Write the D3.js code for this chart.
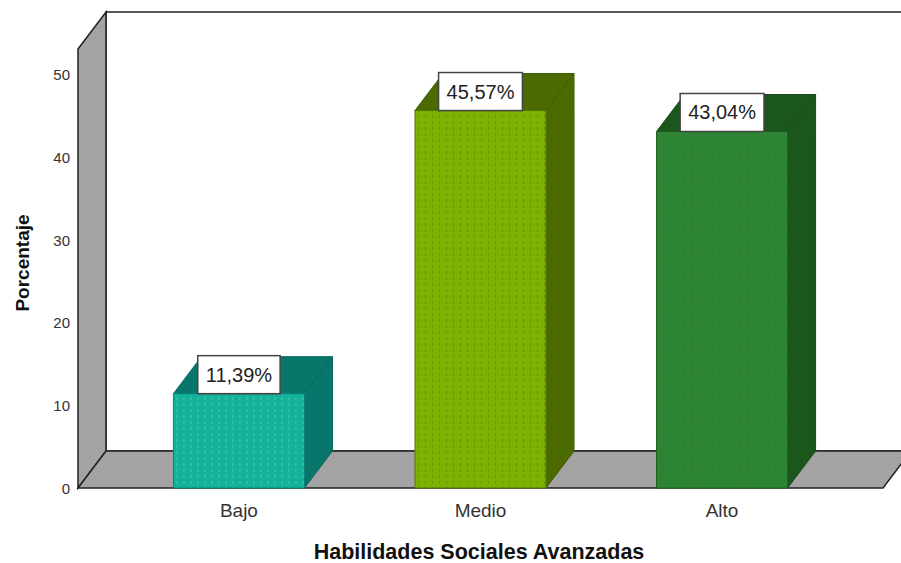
<!DOCTYPE html>
<meta charset="utf-8">
<style>
  body { margin: 0; background: #fff; }
  text { font-family: "Liberation Sans", Arial, sans-serif; }
</style>
<svg width="901" height="563"></svg>
<script src="https://cdn.jsdelivr.net/npm/d3@7"></script>
<script>

var categories = ["Bajo", "Medio", "Alto"];
var values = [11.39, 45.57, 43.04];
var labels = ["11,39%", "45,57%", "43,04%"];
var ticks = [0, 10, 20, 30, 40, 50];

var frontColors = ["#14b29b", "#7db300", "#2a8532"];
var darkColors = ["#08766a", "#4b6a00", "#1b561c"];
var dotColors = ["#45cfa8", "#5e9a00", "#4d7a4a"];

var svg = d3.select("svg"),
    dx = 28, dy = -37,
    left = 78, right = 883, base = 488;

var x = d3.scaleBand()
    .domain(categories)
    .range([left, right])
    .paddingInner(0.4576)
    .paddingOuter(0.395);

var y = d3.scaleLinear()
    .domain([0, 53])
    .range([base, 49]);

var wallTop = y.range()[1];

// patterns
var defs = svg.append("defs");
categories.forEach(function(c, i) {
  var p = defs.append("pattern")
      .attr("id", "pat" + i)
      .attr("patternUnits", "userSpaceOnUse")
      .attr("width", 7).attr("height", 6)
      .attr("x", x(c)).attr("y", 0);
  p.append("rect").attr("width", 7).attr("height", 6).attr("fill", frontColors[i]);
  p.append("rect").attr("x", 3).attr("y", 1).attr("width", 1).attr("height", 3)
      .attr("fill", dotColors[i]);
});

// back wall
svg.append("rect")
    .attr("x", left + dx).attr("y", wallTop + dy)
    .attr("width", right - left + 10).attr("height", base - wallTop)
    .attr("fill", "#fff").attr("stroke", "#222").attr("stroke-width", 1.5);

// left wall
svg.append("polygon")
    .attr("points", [[left, wallTop], [left + dx, wallTop + dy], [left + dx, base + dy], [left, base]].join(" "))
    .attr("fill", "#a3a3a3").attr("stroke", "#222").attr("stroke-width", 1.5);

// floor
svg.append("polygon")
    .attr("points", [[left, base], [left + dx, base + dy], [right + dx, base + dy], [right, base]].join(" "))
    .attr("fill", "#a3a3a3").attr("stroke", "#222").attr("stroke-width", 1.5);

// bars
var bw = x.bandwidth();
var bars = svg.selectAll(".bar")
  .data(categories)
  .enter().append("g").attr("class", "bar");

bars.append("polygon")
    .attr("points", function(c, i) {
      var x0 = x(c) + bw, y0 = y(values[i]);
      return [[x0, y0], [x0 + dx, y0 + dy], [x0 + dx, base + dy], [x0, base]].join(" ");
    })
    .attr("fill", function(c, i) { return darkColors[i]; })
    .attr("stroke", function(c, i) { return d3.color(darkColors[i]).darker(0.4); })
    .attr("stroke-width", 1);

bars.append("polygon")
    .attr("points", function(c, i) {
      var x0 = x(c), y0 = y(values[i]);
      return [[x0, y0], [x0 + dx, y0 + dy], [x0 + bw + dx, y0 + dy], [x0 + bw, y0]].join(" ");
    })
    .attr("fill", function(c, i) { return darkColors[i]; })
    .attr("stroke", function(c, i) { return d3.color(darkColors[i]).darker(0.4); })
    .attr("stroke-width", 1);

bars.append("rect")
    .attr("x", function(c) { return x(c); })
    .attr("y", function(c, i) { return y(values[i]); })
    .attr("width", bw)
    .attr("height", function(c, i) { return base - y(values[i]); })
    .attr("fill", function(c, i) { return "url(#pat" + i + ")"; })
    .attr("stroke", function(c, i) { return d3.color(darkColors[i]).brighter(0.3); })
    .attr("stroke-width", 1);

// value labels
bars.each(function(c, i) {
  var g = d3.select(this);
  var cx = x(c) + bw / 2, yb = y(values[i]);
  var t = g.append("text")
      .attr("x", cx).attr("y", yb - 12)
      .attr("text-anchor", "middle")
      .attr("font-size", 20)
      .attr("fill", "#222")
      .text(labels[i]);
  var w = t.node().getComputedTextLength() + 16;
  g.insert("rect", "text")
      .attr("x", cx - w / 2).attr("y", yb - 38)
      .attr("width", w).attr("height", 38)
      .attr("fill", "#fff").attr("stroke", "#444").attr("stroke-width", 1.5);
});

// y tick labels
svg.selectAll(".tick")
  .data(ticks)
  .enter().append("text")
    .attr("x", 70)
    .attr("y", function(d) { return y(d) + 6; })
    .attr("text-anchor", "end")
    .attr("font-size", 15)
    .attr("fill", "#333")
    .text(function(d) { return d; });

// category labels
svg.selectAll(".cat")
  .data(categories)
  .enter().append("text")
    .attr("x", function(c) { return x(c) + bw / 2; })
    .attr("y", 517)
    .attr("text-anchor", "middle")
    .attr("font-size", 19)
    .attr("fill", "#333")
    .text(function(c) { return c; });

// axis titles
svg.append("text")
    .attr("x", 479).attr("y", 559)
    .attr("text-anchor", "middle")
    .attr("font-size", 21.5).attr("font-weight", "bold")
    .attr("fill", "#111")
    .text("Habilidades Sociales Avanzadas");

svg.append("text")
    .attr("transform", "translate(29,263) rotate(-90)")
    .attr("text-anchor", "middle")
    .attr("font-size", 19).attr("font-weight", "bold")
    .attr("fill", "#111")
    .text("Porcentaje");

</script>
